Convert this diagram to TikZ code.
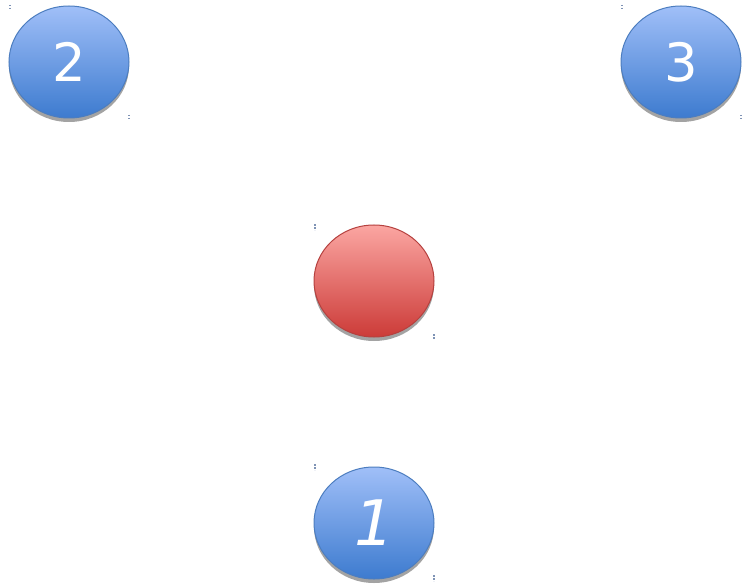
\documentclass[tikz,border=0pt]{standalone}
\usepackage{fontspec}
\newfontfamily\digitfont{DejaVu Sans}
\definecolor{bluetop}{HTML}{A0BFF8}
\definecolor{bluebot}{HTML}{3D7BCF}
\definecolor{blueline}{HTML}{4C7DBF}
\definecolor{redtop}{HTML}{FBA6A2}
\definecolor{redbot}{HTML}{CC3B38}
\definecolor{redline}{HTML}{B5413F}
\definecolor{shadowgray}{HTML}{A3A3A3}
\definecolor{markcol}{HTML}{7F93B5}
\tikzset{
  ball/.style={ellipse, minimum width=120bp, minimum height=112bp, inner sep=0pt, line width=1bp, font=\digitfont\fontsize{53}{53}\selectfont, text=white},
  blueball/.style={ball, draw=blueline, top color=bluetop, bottom color=bluebot},
  redball/.style={ball, draw=redline, top color=redtop, bottom color=redbot},
  bigitalic/.style={font=\digitfont\itshape\fontsize{63}{63}\selectfont},
  shade/.style={ellipse, minimum width=120bp, minimum height=112bp, inner sep=0pt, fill=shadowgray},
  handle/.style={markcol, line width=1.1bp, dash pattern=on 1.5bp off 1.5bp}
}
\usetikzlibrary{shapes.geometric}
\begin{document}
\begin{tikzpicture}[x=1bp,y=-1bp]
\useasboundingbox (0,0) rectangle (742,584);
% shadows
\node[shade] (s2) at (69,66) {};
\node[shade] (s3) at (681,66) {};
\node[shade] (sc) at (374,285) {};
\node[shade] (s1) at (374,527) {};
% balls
\node[blueball] (b2) at (69,62) {\raisebox{-2bp}{2}};
\node[blueball] (b3) at (681,62) {\raisebox{-2bp}{3}};
\node[redball] (c) at (374,281) {};
\node[blueball, bigitalic] (b1) at (374,523) {\raisebox{-2bp}{1}};
% handles
\foreach \x/\y in {10/5,622/5,315/224,315/464}{
  \draw[handle] (\x,\y) -- ++(0,6);
}
\foreach \x/\y in {129/115,741/115,434/334,434/575}{
  \draw[handle] (\x,\y) -- ++(0,6);
}
\end{tikzpicture}
\end{document}
